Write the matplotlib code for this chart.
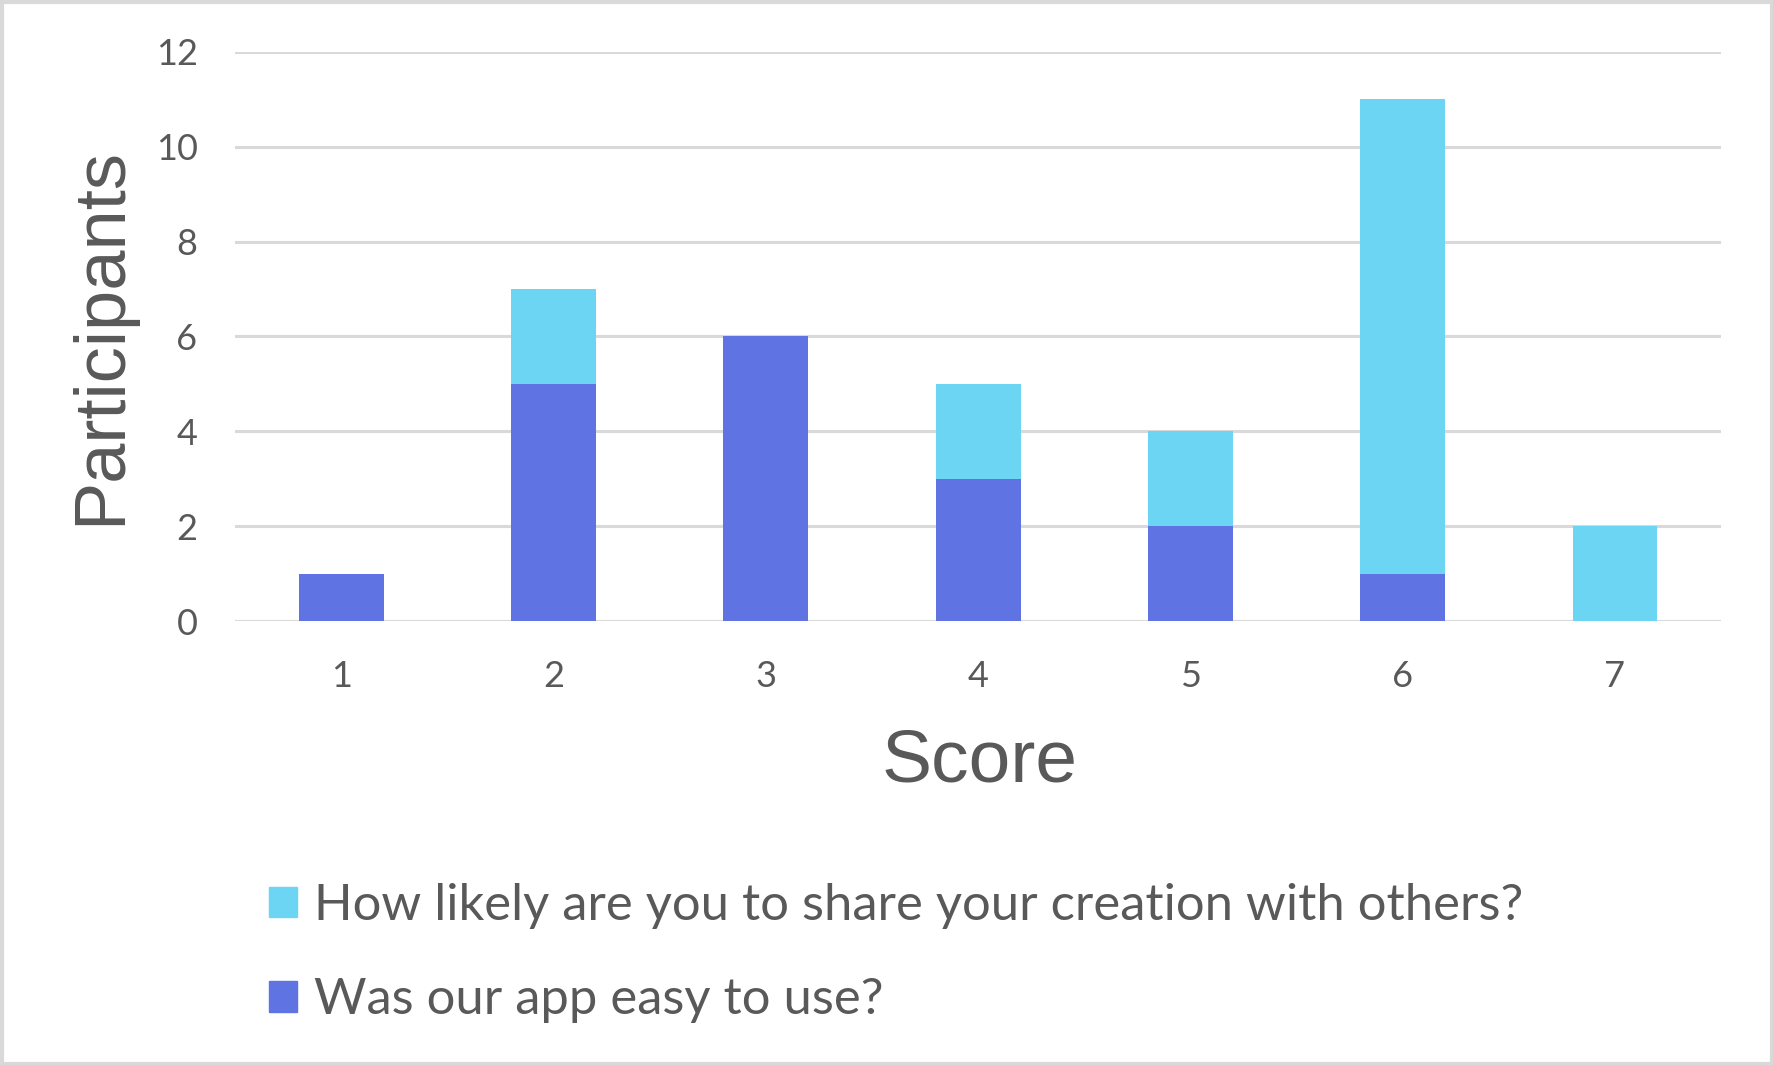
import numpy as np
import matplotlib.pyplot as plt
from matplotlib.patches import Patch

# survey results per score
scores = [1, 2, 3, 4, 5, 6, 7]
easy_to_use = [1, 5, 6, 3, 2, 1, 0]
share_creation = [0, 2, 0, 2, 2, 10, 2]
yticks = [0, 2, 4, 6, 8, 10, 12]

blue = '#5F73E3'
cyan = '#6DD5F4'
txt = '#595959'
grid = '#d9d9d9'

fig = plt.figure(figsize=(17.74, 10.65), dpi=100)
ax = fig.add_axes([0.1325, 0.4169, 0.8377, 0.5343])

x = np.array(scores)
ax.bar(x, easy_to_use, width=0.4, color=blue, zorder=2)
ax.bar(x, share_creation, width=0.4, bottom=easy_to_use, color=cyan, zorder=2)

ax.set_xlim(0.5, 7.5)
ax.set_ylim(0, 12)
ax.set_yticks(yticks)
ax.set_xticks(scores)
for t in yticks:
    ax.axhline(t, color=grid, lw=2.2, zorder=1)
for s in ax.spines.values():
    s.set_visible(False)
ax.tick_params(length=0, colors=txt, labelsize=26)
ax.tick_params(axis='y', pad=27)
ax.tick_params(axis='x', pad=28)
for lab in ax.get_xticklabels() + ax.get_yticklabels():
    lab.set_family('Lato')

# axis titles
fig.text(0.0575, 0.6845, 'Participants', rotation=90, ha='center', va='center',
         fontsize=52, color=txt, family='Liberation Sans')
fig.text(0.552, 0.2846, 'Score', ha='center', va='center',
         fontsize=54, color=txt, family='Liberation Sans')

handles = [Patch(color=cyan, label='How likely are you to share your creation with others?'),
           Patch(color=blue, label='Was our app easy to use?')]
leg = fig.legend(handles=handles, loc='upper left', bbox_to_anchor=(0.1516, 0.171),
                 frameon=False, prop={'family': 'Lato', 'size': 36.5},
                 handlelength=0.56, handleheight=0.56, handletextpad=0.33,
                 labelspacing=0.95, borderpad=0, borderaxespad=0)
for t in leg.get_texts():
    t.set_color(txt)

# light border around the chart
fig.patches.append(plt.Rectangle((0.001, 0.001), 0.998, 0.997, transform=fig.transFigure,
                                 fill=False, edgecolor=grid, lw=3))

fig.savefig('out.png', dpi=100)
